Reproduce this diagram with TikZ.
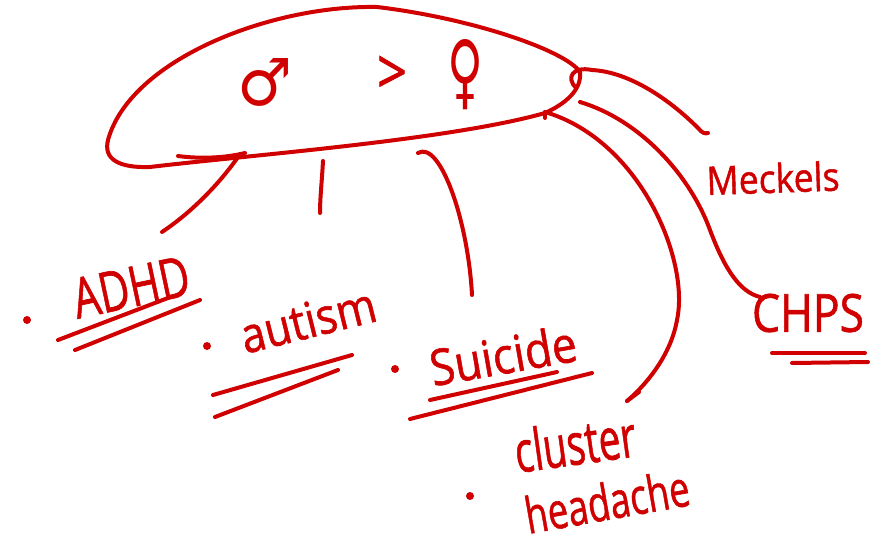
\documentclass[tikz,border=0pt]{standalone}
\usepackage{fontspec}
\setmainfont{Open Sans}
\newfontfamily\handfont{Open Sans}[FakeBold=1.2]
\newfontfamily\symfont{DejaVu Sans}
\definecolor{ink}{RGB}{208,0,0}
% handwritten word: fixed width and height
\newcommand{\hw}[3]{\resizebox{#1}{#2}{#3}}

\begin{document}
\begin{tikzpicture}[x=1pt,y=-1pt,
  pen/.style={draw=ink, line width=4pt, line cap=round, line join=round},
  word/.style={text=ink, inner sep=0pt, anchor=center, font=\handfont},
  bullet/.style={fill=ink, circle, inner sep=0pt, minimum size=8pt}]
\useasboundingbox (0,0) rectangle (879,541);

% ---- the loop holding the comparison ----
\draw[pen] (545,113) .. controls (565,104) and (582,90) .. (580,72)
  .. controls (565,50) and (470,18) .. (377,7)
  .. controls (270,5) and (130,60) .. (108,140)
  .. controls (103,160) and (120,168) .. (150,167)
  .. controls (250,155) and (450,140) .. (545,113);
\draw[pen] (178,156) .. controls (200,159) and (225,158) .. (245,153);

\node[word] (male) at (265,82) {\hw{55pt}{47pt}{\symfont ♂}};
\node[word] (gt) at (392,75) {\hw{30pt}{38pt}{>}};
\node[word] (female) at (465,75) {\hw{36pt}{60pt}{\symfont ♀}};

% ---- attachment points on the loop ----
\coordinate (eA) at (238,157);
\coordinate (eB) at (323,161);
\coordinate (eC) at (418,153);
\coordinate (eD) at (545,112);
\coordinate (eE) at (580,102);
\coordinate (eF) at (576,88);

% ---- connector ends ----
\coordinate (tA) at (162,232);
\coordinate (tB) at (320,213);
\coordinate (tC) at (472,295);
\coordinate (tD) at (627,401);
\coordinate (tE) at (760,297);
\coordinate (tF) at (708,133);

\draw[pen] (eA) .. controls (222,180) and (195,210) .. (tA);
\draw[pen] (eB) .. controls (322,180) and (320,198) .. (tB);
\draw[pen] (eC) .. controls (440,140) and (468,220) .. (tC);
\draw[pen] (eD) .. controls (640,140) and (690,260) .. (677,320)
  .. controls (670,360) and (640,390) .. (tD);
\draw[pen] (tD) -- (639,392);
\draw[pen] (eD) -- (545,118);
\draw[pen] (eE) .. controls (640,120) and (690,175) .. (710,230)
  .. controls (725,270) and (740,292) .. (tE);
\draw[pen] (eF) .. controls (566,78) and (572,66) .. (592,70)
  .. controls (630,72) and (670,100) .. (698,128)
  .. controls (702,133) and (705,134) .. (tF);

% ---- labels ----
\node[bullet] (b1) at (27,320) {};
\node[word, rotate=12] (adhd) at (131,287) {\hw{118pt}{40pt}{ADHD}};
\draw[pen] (58,340) -- (168,298);
\draw[pen] (75,350) -- (200,300);

\node[bullet] (b2) at (207,346) {};
\node[word, rotate=14] (autism) at (308,320) {\hw{138pt}{36pt}{autism}};
\draw[pen] (213,395) -- (352,355);
\draw[pen] (215,417) -- (338,370);

\node[bullet] (b3) at (395,369) {};
\node[word, rotate=10] (suicide) at (503,355) {\hw{148pt}{38pt}{Suicide}};
\draw[pen] (430,400) -- (557,372);
\draw[pen] (410,419) -- (592,373);

\node[word, rotate=8] (cluster) at (575,443) {\hw{122pt}{44pt}{cluster}};
\node[bullet] (b4) at (470,496) {};
\node[word, rotate=10] (headache) at (607,501) {\hw{166pt}{38pt}{headache}};

\node[word, rotate=2] (meckels) at (773,178) {\hw{133pt}{30pt}{Meckels}};

\node[word] (chps) at (808,313) {\hw{112pt}{38pt}{CHPS}};
\draw[pen] (772,353) -- (865,353);
\draw[pen] (792,363) -- (868,362);
\end{tikzpicture}
\end{document}
